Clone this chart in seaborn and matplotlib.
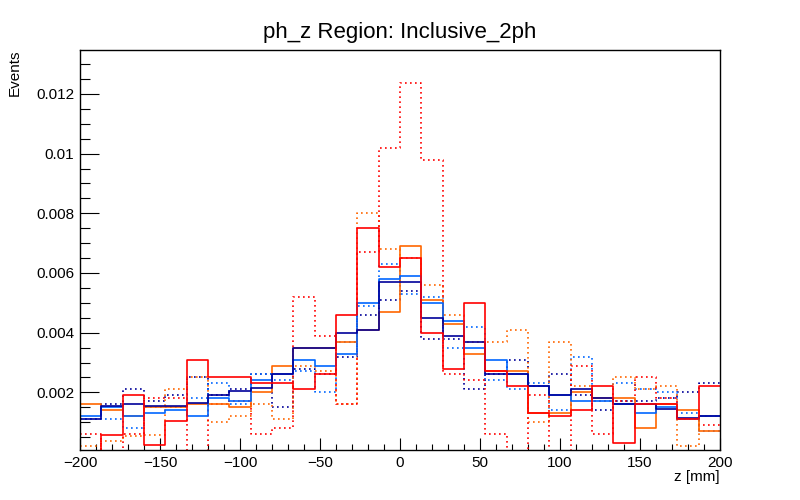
import numpy as np
import pandas as pd
import matplotlib
matplotlib.use("Agg")
import matplotlib.pyplot as plt
import seaborn as sns
from matplotlib.ticker import MultipleLocator, FixedLocator, FixedFormatter

# ---- data (30 bins, -200..200 mm) ----
bin_edges = [float(v) for v in np.linspace(-200, 200, 31)]

navy_solid = [0.0011, 0.00155, 0.0016, 0.00155, 0.00155, 0.00165, 0.0019, 0.00205, 0.00215, 0.0026,
              0.0035, 0.0035, 0.0040, 0.0041, 0.0057, 0.0057, 0.0045, 0.0039, 0.0037, 0.0026,
              0.0026, 0.0022, 0.0019, 0.0021, 0.0018, 0.0016, 0.0016, 0.00145, 0.00115, 0.0012]
blue_solid = [0.0012, 0.0015, 0.0012, 0.0013, 0.0014, 0.0012, 0.0018, 0.0017, 0.0024, 0.0026,
              0.0031, 0.0029, 0.0033, 0.0050, 0.0058, 0.0059, 0.0050, 0.0044, 0.0035, 0.0031,
              0.0026, 0.0022, 0.0019, 0.0017, 0.0017, 0.0016, 0.0013, 0.0015, 0.0011, 0.0012]
orange_solid = [0.0016, 0.0014, 0.0012, 0.0015, 0.0015, 0.0016, 0.0016, 0.0015, 0.0020, 0.0029,
                0.0035, 0.0035, 0.0037, 0.0041, 0.0047, 0.0069, 0.0051, 0.0043, 0.0033, 0.0027,
                0.0027, 0.0013, 0.0013, 0.0020, 0.0018, 0.0018, 0.0008, 0.0016, 0.0014, 0.0007]
red_solid = [0.0, 0.00058, 0.0019, 0.00025, 0.00105, 0.0031, 0.0025, 0.0025, 0.0023, 0.0023,
             0.0021, 0.0026, 0.0046, 0.0075, 0.0062, 0.0065, 0.0040, 0.0028, 0.0050, 0.0027,
             0.0022, 0.0013, 0.0012, 0.0014, 0.0022, 0.0003, 0.0016, 0.0016, 0.0011, 0.0022]
navy_dotted = [0.0011, 0.0016, 0.0021, 0.0017, 0.0019, 0.0025, 0.0019, 0.0021, 0.0026, 0.0015,
               0.0028, 0.0026, 0.0032, 0.0046, 0.0051, 0.0054, 0.0038, 0.0038, 0.0021, 0.0026,
               0.0031, 0.0022, 0.0026, 0.0019, 0.0014, 0.0017, 0.0017, 0.0018, 0.0020, 0.0023]
blue_dotted = [0.0011, 0.0011, 0.0008, 0.0015, 0.0015, 0.0018, 0.0023, 0.0016, 0.0026, 0.0024,
               0.0027, 0.0020, 0.0037, 0.0049, 0.0063, 0.0053, 0.0052, 0.0035, 0.0042, 0.0024,
               0.0021, 0.0023, 0.0014, 0.0032, 0.0017, 0.0023, 0.0021, 0.0020, 0.0013, 0.0007]
orange_dotted = [0.0002, 0.00037, 0.00055, 0.00057, 0.0021, 0.0025, 0.0010, 0.0012, 0.0016, 0.0011,
                 0.0029, 0.0027, 0.0016, 0.0080, 0.0068, 0.0065, 0.0056, 0.0046, 0.0037, 0.0037,
                 0.0041, 0.0010, 0.0037, 0.0022, 0.0017, 0.0025, 0.0021, 0.0022, 0.0002, 0.0012]
red_dotted = [0.0006, 0.0, 0.0006, 0.0018, 0.0018, 0.0, 0.0016, 0.0017, 0.0006, 0.0008,
              0.0052, 0.0039, 0.0016, 0.0067, 0.0102, 0.01236, 0.0098, 0.0026, 0.0024, 0.0006,
              0.0, 0.0019, 0.0, 0.0029, 0.0006, 0.0017, 0.0025, 0.0018, 0.0011, 0.0009]

x_ticks = [-200, -150, -100, -50, 0, 50, 100, 150, 200]
y_ticks = [0.002, 0.004, 0.006, 0.008, 0.01, 0.012]
y_tick_labels = ["0.002", "0.004", "0.006", "0.008", "0.01", "0.012"]

NAVY, BLUE, ORANGE, RED = "#000099", "#0066ff", "#ff6600", "#ff0000"
DOT = (0, (1, 2))

series = [
    ("navy_dotted", navy_dotted, NAVY, DOT),
    ("blue_dotted", blue_dotted, BLUE, DOT),
    ("orange_dotted", orange_dotted, ORANGE, DOT),
    ("red_dotted", red_dotted, RED, DOT),
    ("orange_solid", orange_solid, ORANGE, "-"),
    ("blue_solid", blue_solid, BLUE, "-"),
    ("navy_solid", navy_solid, NAVY, "-"),
    ("red_solid", red_solid, RED, "-"),
]

sns.set_style("white")
plt.rcParams["font.family"] = ["Liberation Sans", "DejaVu Sans"]
plt.rcParams["text.color"] = "black"

fig = plt.figure(figsize=(8, 5), dpi=100)
ax = fig.add_axes([0.1, 0.1, 0.8, 0.8])

centers = [0.5 * (bin_edges[i] + bin_edges[i + 1]) for i in range(len(bin_edges) - 1)]
for name, vals, col, ls in series:
    df = pd.DataFrame({"z": centers, "w": vals})
    sns.histplot(data=df, x="z", weights="w", bins=bin_edges, element="step",
                 fill=False, color=col, linestyle=ls, linewidth=1.2, ax=ax)

ax.set_xlim(-200, 200)
ax.set_ylim(0.00007, 0.01347)
ax.xaxis.set_major_locator(FixedLocator(x_ticks))
ax.xaxis.set_minor_locator(MultipleLocator(10))
ax.yaxis.set_major_locator(FixedLocator(y_ticks))
ax.yaxis.set_major_formatter(FixedFormatter(y_tick_labels))
ax.yaxis.set_minor_locator(MultipleLocator(0.0005))

ax.tick_params(axis="both", which="both", direction="in", top=False, right=False,
               bottom=True, left=True, colors="black", labelsize=11, width=0.8)
ax.tick_params(axis="x", which="major", length=8.6, pad=4)
ax.tick_params(axis="x", which="minor", length=4.3)
ax.tick_params(axis="y", which="major", length=13.7, pad=4)
ax.tick_params(axis="y", which="minor", length=7)
for sp in ax.spines.values():
    sp.set_color("black")
    sp.set_linewidth(1.0)

ax.set_xlabel("")
ax.set_ylabel("")
fig.text(0.9, 0.045, "z [mm]", ha="right", va="center", fontsize=11, color="black")
fig.text(0.018, 0.9, "Events", ha="center", va="top", rotation=90, fontsize=11, color="black")
fig.text(0.5, 0.935, "ph_z Region: Inclusive_2ph", ha="center", va="center", fontsize=16,
         color="black")

fig.savefig("out.png", dpi=100)
